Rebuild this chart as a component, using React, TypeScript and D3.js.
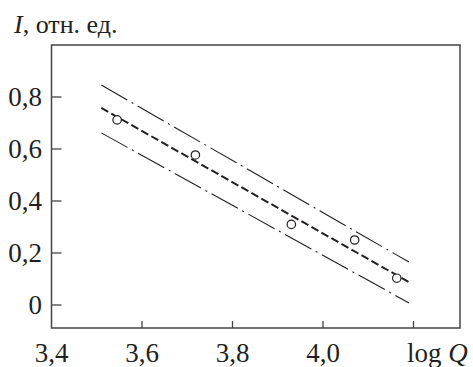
import React from "react";
import * as d3 from "d3";

const xTicks = [3.4, 3.6, 3.8, 4.0];
const xTickMarks = [3.6, 3.8, 4.0, 4.2];
const xTickLabels = ["3,4", "3,6", "3,8", "4,0"];
const yTicks = [0, 0.2, 0.4, 0.6, 0.8];
const yTickLabels = ["0", "0,2", "0,4", "0,6", "0,8"];

const pointsX = [3.545, 3.718, 3.93, 4.07, 4.163];
const pointsY = [0.712, 0.577, 0.31, 0.25, 0.103];

const lineX = [3.51, 4.19];
const fitY = [0.758, 0.088];
const upperY = [0.846, 0.165];
const lowerY = [0.662, 0.008];

const W = 473;
const H = 367;
const left = 51.5;
const right = 460;
const top = 45;
const bottom = 328;

export default function App() {
  const x = d3.scaleLinear().domain([3.4, 4.2]).range([left, left + 4 * 90.5]);
  const y = d3.scaleLinear().domain([0, 0.2]).range([305, 253]);
  const line = d3
    .line<[number, number]>()
    .x((d) => x(d[0]))
    .y((d) => y(d[1]));
  const mk = (ys: number[]) => line(lineX.map((v, i) => [v, ys[i]] as [number, number])) || "";
  const fs = { fontFamily: '"Liberation Serif", serif' };
  const ink = "#231f20";
  return (
    <svg width={W} height={H} style={{ position: "absolute", left: 0, top: 0 }}>
      <rect x={0} y={0} width={W} height={H} fill="#fff" />
      <rect x={left} y={top} width={right - left} height={bottom - top} fill="none" stroke="#444" strokeWidth={1.5} />
      {yTicks.map((t, i) => (
        <g key={"y" + i}>
          <line x1={left} x2={left + 10} y1={y(t)} y2={y(t)} stroke="#444" strokeWidth={1.3} />
          <text x={42} y={y(t) + 9} textAnchor="end" fontSize={27} fill={ink} style={fs}>
            {yTickLabels[i]}
          </text>
        </g>
      ))}
      {xTickMarks.map((t, i) => (
        <line key={"xt" + i} x1={x(t)} x2={x(t)} y1={bottom} y2={bottom - 7} stroke="#444" strokeWidth={1.3} />
      ))}
      {xTicks.map((t, i) => (
        <text key={"xl" + i} x={x(t)} y={362} textAnchor="middle" fontSize={27} fill={ink} style={fs}>
          {xTickLabels[i]}
        </text>
      ))}
      <text x={407} y={362} fontSize={27} fill={ink} style={fs}>
        log <tspan fontStyle="italic">Q</tspan>
      </text>
      <text x={14} y={33} fontSize={26} fill={ink} style={fs}>
        <tspan fontStyle="italic">I</tspan>, отн. ед.
      </text>
      <path d={mk(upperY)} fill="none" stroke={ink} strokeWidth={1.1} strokeDasharray="30,5,2,5" />
      <path d={mk(lowerY)} fill="none" stroke={ink} strokeWidth={1.1} strokeDasharray="30,5,2,5" />
      <path d={mk(fitY)} fill="none" stroke={ink} strokeWidth={2} strokeDasharray="8,3.5" />
      {pointsX.map((px, i) => (
        <circle key={"p" + i} cx={x(px)} cy={y(pointsY[i])} r={4.2} fill="#fff" stroke={ink} strokeWidth={1.2} />
      ))}
    </svg>
  );
}
